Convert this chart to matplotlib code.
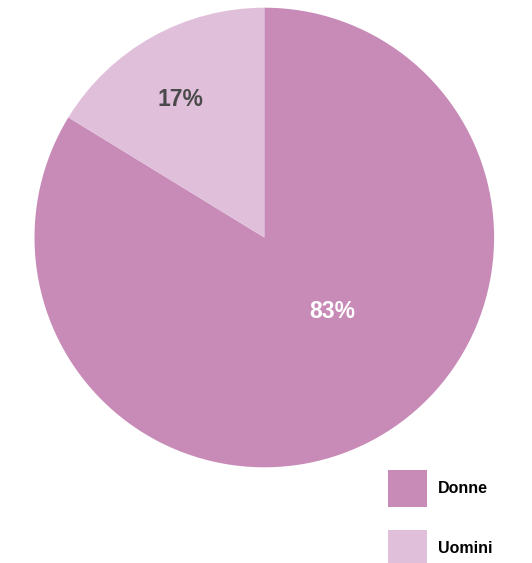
import matplotlib
matplotlib.use("Agg")
import matplotlib.pyplot as plt
from matplotlib.patches import Patch
import numpy as np

categories = ["Donne", "Uomini"]
values = [83.75, 16.25]          # wedge shares as drawn
labels = ["83%", "17%"]          # printed labels
colors = ["#C88BB8", "#E0BFDB"]
label_colors = ["white", "#4A4A4A"]

W, H = 532, 563
fig = plt.figure(figsize=(W / 100, H / 100), dpi=100)
cx, cy, r = 264.3, 237.5, 229.8
ax = fig.add_axes([(cx - r) / W, (H - cy - r) / H, 2 * r / W, 2 * r / H])
wedges, _ = ax.pie(values, colors=colors, startangle=90, counterclock=False,
                   radius=1, wedgeprops=dict(linewidth=0))
ax.set_xlim(-1, 1)
ax.set_ylim(-1, 1)
ax.set_aspect("equal")
ax.axis("off")

# label placement (angle deg, distance as fraction of radius)
label_pos = [(-47.4, 0.435), (121.5, 0.702)]
for lab, (ang, d), c in zip(labels, label_pos, label_colors):
    a = np.deg2rad(ang)
    ax.text(d * np.cos(a), d * np.sin(a), lab, ha="center", va="center",
            fontsize=16.5, fontweight="bold", color=c, family="Liberation Sans")

handles = [Patch(facecolor=c, edgecolor="none") for c in colors]
fig.legend(handles, categories, loc="upper left",
           bbox_to_anchor=(388 / W, 1 - 470 / H), frameon=False,
           borderpad=0, borderaxespad=0, handlelength=2.44, handleheight=3.18,
           labelspacing=1.44, handletextpad=0.69,
           prop=dict(family="Liberation Sans", weight="bold", size=11.5))

fig.savefig("out.png", dpi=100)
